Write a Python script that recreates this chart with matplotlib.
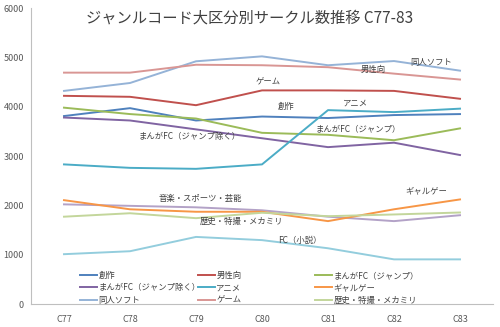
import numpy as np
import matplotlib.pyplot as plt

plt.rcParams['font.family'] = ['Noto Sans CJK JP', 'DejaVu Sans']

# comiket numbers
events = ['C77', 'C78', 'C79', 'C80', 'C81', 'C82', 'C83']

sousaku = [3810, 3970, 3720, 3800, 3770, 3830, 3850]
dansei = [4220, 4200, 4030, 4330, 4330, 4320, 4160]
jump = [3980, 3850, 3760, 3470, 3430, 3320, 3560]
jump_nozoku = [3780, 3720, 3540, 3360, 3180, 3270, 3020]
anime = [2830, 2760, 2740, 2830, 3930, 3890, 3960]
galge = [2105, 1920, 1870, 1870, 1680, 1920, 2120]
doujin_soft = [4320, 4480, 4920, 5020, 4840, 4925, 4730]
game = [4690, 4690, 4850, 4840, 4800, 4670, 4550]
rekishi = [1770, 1840, 1740, 1850, 1780, 1815, 1855]
ongaku = [2020, 1990, 1960, 1900, 1770, 1680, 1800]
fc_shousetsu = [1010, 1070, 1360, 1295, 1130, 905, 905]

fig = plt.figure(figsize=(5, 3.27), dpi=100)
ax = fig.add_axes([0.062, 0.0703, 0.924, 0.9052])

x = np.arange(len(events))
lw = 1.4

# lines not in the legend first
ax.plot(x, ongaku, color='#B3A2C7', lw=lw)
ax.plot(x, fc_shousetsu, color='#93CDDD', lw=lw)

h = {}
h['創作'] = ax.plot(x, sousaku, color='#4F81BD', lw=lw)[0]
h['男性向'] = ax.plot(x, dansei, color='#C0504D', lw=lw)[0]
h['まんがFC（ジャンプ）'] = ax.plot(x, jump, color='#9BBB59', lw=lw)[0]
h['まんがFC（ジャンプ除く）'] = ax.plot(x, jump_nozoku, color='#8064A2', lw=lw)[0]
h['アニメ'] = ax.plot(x, anime, color='#4BACC6', lw=lw)[0]
h['ギャルゲー'] = ax.plot(x, galge, color='#F79646', lw=lw)[0]
h['同人ソフト'] = ax.plot(x, doujin_soft, color='#95B3D7', lw=lw)[0]
h['ゲーム'] = ax.plot(x, game, color='#D99694', lw=lw)[0]
h['歴史・特撮・メカミリ'] = ax.plot(x, rekishi, color='#C3D69B', lw=lw)[0]

ax.set_xlim(-0.5, 6.5)
ax.set_ylim(0, 6000)
ax.set_xticks(x)
ax.set_xticklabels(events)
ax.set_yticks(range(0, 6001, 1000))
ax.tick_params(length=0, labelsize=6.5, colors='#595959', pad=5)
ax.tick_params(axis='x', pad=8)
for s in ['top', 'right']:
    ax.spines[s].set_visible(False)
for s in ['left', 'bottom']:
    ax.spines[s].set_color('#BFBFBF')
    ax.spines[s].set_linewidth(0.8)

fig.text(0.5, 0.945, 'ジャンルコード大区分別サークル数推移 C77-83', ha='center',
         va='center', fontsize=11, color='#404040')

# labels placed on the chart (figure pixel coords)
labels = [
    ('同人ソフト', 431, 62), ('男性向', 373, 69), ('ゲーム', 268, 82),
    ('創作', 286, 106), ('アニメ', 355, 103), ('まんがFC（ジャンプ）', 358, 129),
    ('まんがFC（ジャンプ除く）', 190, 137), ('音楽・スポーツ・芸能', 200, 198),
    ('歴史・特撮・メカミリ', 241, 221), ('FC（小説）', 300, 240),
    ('ギャルゲー', 426, 191),
]
for t, px, py in labels:
    fig.text(px / 500, 1 - py / 327, t, ha='center', va='center',
             fontsize=6, color='#404040')

# legend: three columns, each its own legend so they sit where Excel put them
cols = [['創作', 'まんがFC（ジャンプ除く）', '同人ソフト'],
        ['男性向', 'アニメ', 'ゲーム'],
        ['まんがFC（ジャンプ）', 'ギャルゲー', '歴史・特撮・メカミリ']]
col_x = [80, 198, 315]
for names, cx in zip(cols, col_x):
    leg = fig.legend([h[k] for k in names], names, loc='upper left',
                     bbox_to_anchor=(cx / 500, 1 - 271 / 327), frameon=False,
                     fontsize=6, handlelength=2.0, handletextpad=0.2,
                     labelspacing=0.4, borderpad=0, borderaxespad=0)
    for t in leg.get_texts():
        t.set_color('#404040')

fig.savefig('out.png', dpi=100)
